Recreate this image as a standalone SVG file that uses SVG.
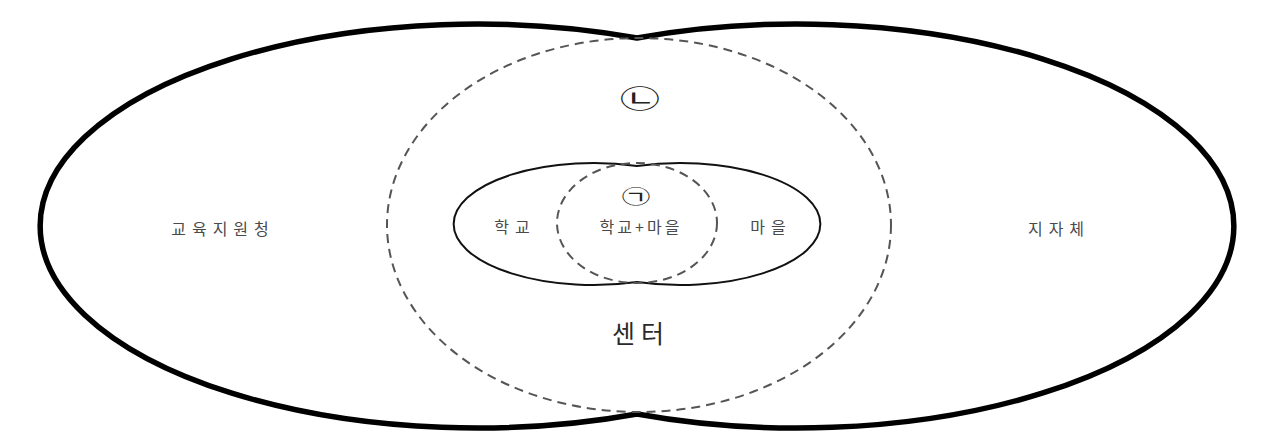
<svg xmlns="http://www.w3.org/2000/svg" width="1265" height="438" viewBox="0 0 1265 438">
<style>
.outer{fill:none;stroke:#000;stroke-width:5.5}
.inner{fill:none;stroke:#111;stroke-width:2}
.dash{fill:none;stroke:#555;stroke-width:2;stroke-dasharray:9 6}
.lbl{font-family:"Noto Sans CJK KR","Noto Sans",sans-serif;font-size:16px;fill:#4a4a4a;text-anchor:middle;dominant-baseline:central;letter-spacing:6px}
.big{font-size:25px;fill:#2a2a2a;letter-spacing:6px}
.circ{font-family:"Noto Sans CJK KR","Noto Sans",sans-serif;fill:#222;text-anchor:middle;dominant-baseline:central}
</style>
<rect width="1265" height="438" fill="#fff"/>
<g id="outer-union">
<path class="outer" d="M637,38 A437,202 0 1,0 637,414 A437,202 0 1,0 637,38 Z"/>
</g>
<g id="center-area">
<ellipse class="dash" cx="639" cy="225" rx="252" ry="187"/>
</g>
<g id="inner-union">
<path class="inner" d="M637,166 A140,61 0 1,0 637,282 A140,61 0 1,0 637,166 Z"/>
</g>
<g id="inner-dash">
<ellipse class="dash" cx="637" cy="223" rx="80" ry="60"/>
</g>
<g id="labels">
<text class="lbl" x="223" y="228">교육지원청</text>
<text class="lbl" x="1059" y="228">지자체</text>
<text class="lbl" x="515" y="226">학교</text>
<text class="lbl" x="641" y="226" style="letter-spacing:3px">학교+마을</text>
<text class="lbl" x="771" y="226">마을</text>
<text class="lbl big" x="641" y="332">센터</text>
<text class="circ" font-size="20" transform="translate(636,196) scale(1.45,0.95)">㉠</text>
<text class="circ" font-size="26" transform="translate(640,97) scale(1.55,0.95)">㉡</text>
</g>
</svg>
